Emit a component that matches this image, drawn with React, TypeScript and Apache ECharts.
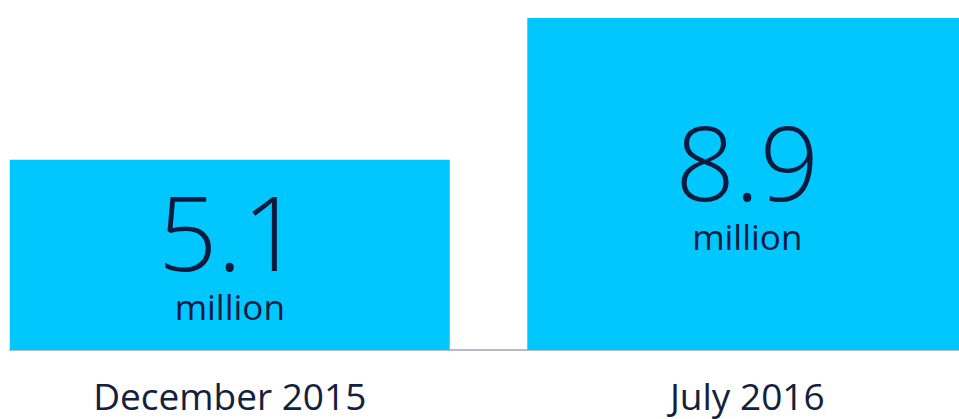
import React, { useEffect, useRef } from "react";
import * as echarts from "echarts";

const categories = ["December 2015", "July 2016"];
const values = [5.1, 8.9];
const unitLabel = "million";

export default function App() {
  const ref = useRef<HTMLDivElement>(null);
  useEffect(() => {
    if (!ref.current) return;
    const chart = echarts.init(ref.current, null, { renderer: "svg" });
    const font = "'Open Sans', 'Noto Sans', sans-serif";
    chart.setOption({
      animation: false,
      grid: [
        { left: -29, right: -47, top: 14.3, bottom: 69, outerBoundsMode: "none", containLabel: false },
        { left: 10, right: 0, top: 14.3, bottom: 69, outerBoundsMode: "none", containLabel: false },
      ],
      xAxis: [
        {
          type: "category",
          data: categories,
          gridIndex: 0,
          axisLine: { show: false },
          axisTick: { show: false },
          axisLabel: {
            margin: 27,
            fontSize: 37,
            fontFamily: font,
            color: "#14213d",
            lineHeight: 36,
          },
        },
        {
          type: "category",
          data: categories,
          gridIndex: 1,
          axisLine: { show: true, lineStyle: { color: "#b4bcc8", width: 2 } },
          axisTick: { show: false },
          axisLabel: { show: false },
        },
      ],
      yAxis: [
        { type: "value", min: 0, max: 9, gridIndex: 0, show: false, splitLine: { show: false } },
        { type: "value", min: 0, max: 9, gridIndex: 1, show: false, splitLine: { show: false } },
      ],
      series: [
        {
          type: "bar",
          xAxisIndex: 0,
          yAxisIndex: 0,
          data: values,
          barWidth: 440,
          z: 3,
          itemStyle: { color: "#00c8ff" },
          label: {
            show: true,
            position: "inside",
            offset: [0, -4],
            formatter: (p: any) => `{num|${p.value}}\n{unit|${unitLabel}}`,
            rich: {
              num: {
                fontSize: 104,
                fontWeight: 300,
                fontFamily: font,
                color: "#0c1a3e",
                lineHeight: 112,
              },
              unit: {
                fontSize: 35,
                fontWeight: 400,
                fontFamily: font,
                color: "#0c1a3e",
                lineHeight: 40,
              },
            },
          },
        },
      ],
    });
    return () => chart.dispose();
  }, []);
  return (
    <div
      ref={ref}
      style={{ position: "fixed", left: 0, top: 0, width: 959, height: 419, background: "#fff" }}
    />
  );
}
